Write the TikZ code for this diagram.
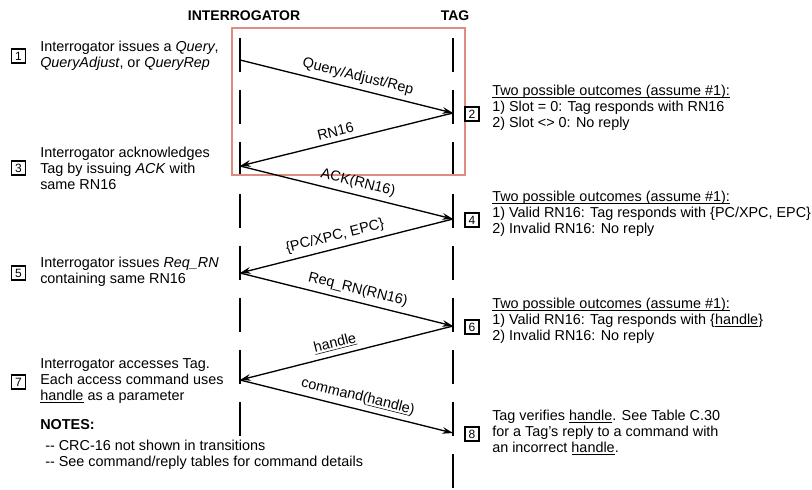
\documentclass[tikz,border=0pt]{standalone}
\usepackage{fontspec}
\setmainfont{Liberation Sans}
\usetikzlibrary{arrows.meta}

\definecolor{framered}{RGB}{222,140,124}

\newcommand{\ulword}[1]{\underline{\smash{#1}}}

\tikzset{
  lifeline/.style={line width=1.4pt, dash pattern=on 25.5pt off 13.5pt},
  msg/.style={line width=1pt, -{Stealth[length=8pt,width=5pt]}},
  msglabel/.style={sloped, above=2.5pt, pos=0.54, inner sep=1pt, font=\fontsize{10.8}{12}\selectfont},
  stepbox/.style={draw, line width=0.8pt, minimum size=10.5pt, inner sep=0pt, font=\fontsize{9}{10}\selectfont},
  steptext/.style={anchor=west, align=left, inner sep=0pt, font=\fontsize{10.8}{12}\selectfont},
  header/.style={font=\bfseries\fontsize{10.5}{12}\selectfont},
}

\begin{document}
\begin{tikzpicture}[x=0.75pt,y=-0.75pt]
\useasboundingbox (0,0) rectangle (812,489);

% headers
\node[header] (hint) at (244,16) {INTERROGATOR};
\node[header] (htag) at (455,16) {TAG};

% lifelines
\coordinate (itop) at (240,38);
\coordinate (ibot) at (240,436);
\coordinate (ttop) at (453,38);
\coordinate (tbot) at (453,492);
\draw[lifeline] (itop) -- (ibot);
\draw[lifeline] (ttop) -- (tbot);

% frame round the first exchange
\draw[framered, line width=2.2pt] (232,28) rectangle (465,175);

% message points
\coordinate (i1) at (240,60);
\coordinate (t2) at (453,113);
\coordinate (i3) at (240,166);
\coordinate (t4) at (453,219);
\coordinate (i5) at (240,273);
\coordinate (t6) at (453,326);
\coordinate (i7) at (240,380);
\coordinate (t8) at (453,433);

\draw[msg] (i1) -- node[msglabel] {Query/Adjust/Rep} (t2);
\draw[msg] (t2) -- node[msglabel] {RN16} (i3);
\draw[msg] (i3) -- node[msglabel] {ACK(RN16)} (t4);
\draw[msg] (t4) -- node[msglabel] {\{PC/XPC, EPC\}} (i5);
\draw[msg] (i5) -- node[msglabel] {Req\_RN(RN16)} (t6);
\draw[msg] (t6) -- node[msglabel] {\ulword{handle}} (i7);
\draw[msg] (i7) -- node[msglabel] {command(\ulword{handle})} (t8);

% interrogator side
\node[stepbox] (s1) at (18.5,56) {1};
\node[steptext] (d1) at (40,56) {Interrogator issues a \textit{Query},\\\textit{QueryAdjust}, or \textit{QueryRep}};
\node[stepbox] (s3) at (18.5,168) {3};
\node[steptext] (d3) at (40,168) {Interrogator acknowledges\\Tag by issuing \textit{ACK} with\\same RN16};
\node[stepbox] (s5) at (18.5,273) {5};
\node[steptext] (d5) at (40,272) {Interrogator issues \textit{Req\_RN}\\containing same RN16};
\node[stepbox] (s7) at (18.5,382) {7};
\node[steptext] (d7) at (40,381) {Interrogator accesses Tag.\\Each access command uses\\\ulword{handle} as a parameter};

% tag side
\node[stepbox] (s2) at (472,114) {2};
\node[steptext] (d2) at (492,113) {\ulword{Two possible outcomes (assume \#1):}\\1) Slot = 0: Tag responds with RN16\\2) Slot <> 0: No reply};
\node[stepbox] (s4) at (472,220) {4};
\node[steptext] (d4) at (492,219) {\ulword{Two possible outcomes (assume \#1):}\\1) Valid RN16: Tag responds with \{PC/XPC, EPC\}\\2) Invalid RN16: No reply};
\node[stepbox] (s6) at (472,327) {6};
\node[steptext] (d6) at (492,326) {\ulword{Two possible outcomes (assume \#1):}\\1) Valid RN16: Tag responds with \{\ulword{handle}\}\\2) Invalid RN16: No reply};
\node[stepbox] (s8) at (472,434) {8};
\node[steptext] (d8) at (492,433) {Tag verifies \ulword{handle}. See Table C.30\\for a Tag's reply to a command with\\an incorrect \ulword{handle}.};

% notes
\node[steptext, font=\bfseries\fontsize{10.8}{12}\selectfont] (notes) at (40,425) {NOTES:};
\node[steptext] (notelines) at (45,455) {-{}- CRC-16 not shown in transitions\\-{}- See command/reply tables for command details};

\end{tikzpicture}
\end{document}
